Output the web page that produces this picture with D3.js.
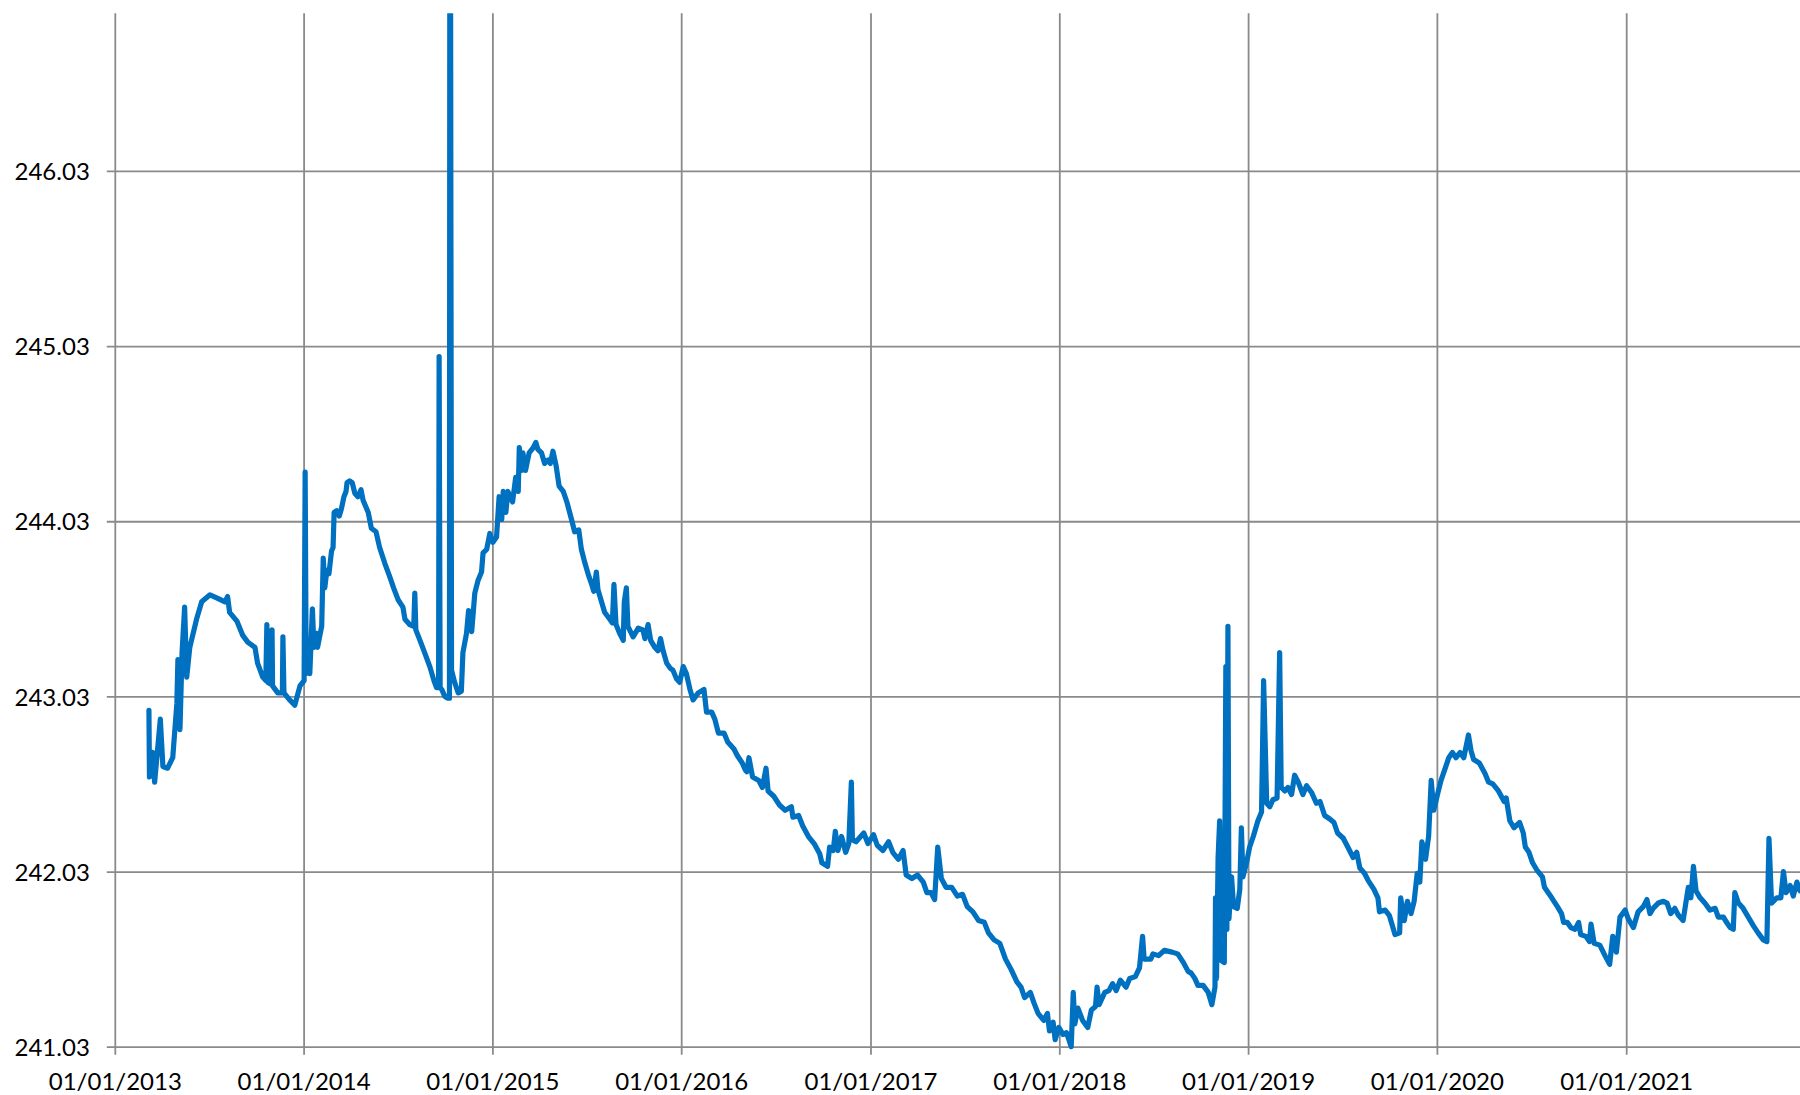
<!DOCTYPE html>
<html>
<head>
<meta charset="utf-8">
<script src="https://cdn.jsdelivr.net/npm/d3@7"></script>
<style>
  html, body { margin: 0; padding: 0; background: #ffffff; }
  svg { display: block; }
  .tick text { font-family: Lato, "Open Sans", sans-serif; fill: #000; }
</style>
</head>
<body>
<svg id="chart" width="1800" height="1095"></svg>
<script>
// ---------- data ----------
const dates = [
"2013-03-08","2013-03-09","2013-03-15","2013-03-19","2013-03-30","2013-04-04","2013-04-13","2013-04-23","2013-05-01","2013-05-03",
"2013-05-07","2013-05-11","2013-05-16","2013-05-20","2013-05-26","2013-06-08","2013-06-18","2013-07-04","2013-07-19","2013-08-02",
"2013-08-07","2013-08-11","2013-08-25","2013-09-05","2013-09-15","2013-09-29","2013-10-04","2013-10-14","2013-10-20","2013-10-22",
"2013-10-24","2013-10-30","2013-11-01","2013-11-02","2013-11-12","2013-11-21","2013-11-22","2013-11-24","2013-12-05","2013-12-15",
"2013-12-25","2014-01-02","2014-01-04","2014-01-06","2014-01-09","2014-01-13","2014-01-18","2014-01-21","2014-01-26","2014-01-28",
"2014-02-05","2014-02-08","2014-02-11","2014-02-15","2014-02-19","2014-02-24","2014-02-27","2014-03-01","2014-03-06","2014-03-11",
"2014-03-15","2014-03-20","2014-03-24","2014-03-26","2014-03-31","2014-04-05","2014-04-10","2014-04-16","2014-04-22","2014-04-26",
"2014-05-06","2014-05-12","2014-05-21","2014-05-28","2014-06-07","2014-06-17","2014-06-24","2014-07-03","2014-07-12","2014-07-16",
"2014-07-25","2014-08-02","2014-08-04","2014-08-06","2014-08-14","2014-08-23","2014-09-02","2014-09-10","2014-09-15","2014-09-19",
"2014-09-20","2014-09-22","2014-09-25","2014-10-01","2014-10-06","2014-10-10","2014-10-11","2014-10-14","2014-10-20","2014-10-27",
"2014-11-02","2014-11-05","2014-11-12","2014-11-16","2014-11-22","2014-11-28","2014-12-04","2014-12-11","2014-12-14","2014-12-21",
"2014-12-27","2015-01-02","2015-01-09","2015-01-14","2015-01-19","2015-01-22","2015-01-27","2015-01-31","2015-02-09","2015-02-15",
"2015-02-20","2015-02-22","2015-02-26","2015-03-01","2015-03-06","2015-03-13","2015-03-21","2015-03-26","2015-03-30","2015-04-06",
"2015-04-12","2015-04-19","2015-04-23","2015-04-28","2015-05-04","2015-05-10","2015-05-18","2015-05-25","2015-06-03","2015-06-09",
"2015-06-17","2015-06-22","2015-06-29","2015-07-05","2015-07-12","2015-07-16","2015-07-21","2015-07-24","2015-07-31","2015-08-06",
"2015-08-16","2015-08-21","2015-08-24","2015-08-28","2015-09-04","2015-09-11","2015-09-13","2015-09-17","2015-09-20","2015-09-30",
"2015-10-10","2015-10-19","2015-10-23","2015-10-29","2015-11-03","2015-11-11","2015-11-17","2015-11-22","2015-11-27","2015-12-04",
"2015-12-11","2015-12-16","2015-12-23","2015-12-29","2016-01-05","2016-01-11","2016-01-18","2016-01-24","2016-02-03","2016-02-14",
"2016-02-19","2016-02-29","2016-03-06","2016-03-13","2016-03-24","2016-03-31","2016-04-12","2016-04-19","2016-04-28","2016-05-04",
"2016-05-07","2016-05-11","2016-05-18","2016-05-30","2016-06-06","2016-06-13","2016-06-17","2016-06-28","2016-07-09","2016-07-20",
"2016-08-01","2016-08-04","2016-08-15","2016-08-23","2016-09-03","2016-09-14","2016-09-25","2016-09-29","2016-10-10","2016-10-14",
"2016-10-21","2016-10-25","2016-10-30","2016-11-06","2016-11-14","2016-11-20","2016-11-25","2016-11-27","2016-12-04","2016-12-19",
"2016-12-27","2017-01-07","2017-01-14","2017-01-25","2017-02-05","2017-02-13","2017-02-24","2017-03-05","2017-03-11","2017-03-22",
"2017-04-02","2017-04-13","2017-04-20","2017-04-28","2017-05-05","2017-05-11","2017-05-18","2017-05-27","2017-06-07","2017-06-18",
"2017-06-28","2017-07-07","2017-07-18","2017-07-29","2017-08-09","2017-08-17","2017-08-28","2017-09-08","2017-09-19","2017-09-30",
"2017-10-11","2017-10-19","2017-10-26","2017-11-06","2017-11-13","2017-11-21","2017-12-02","2017-12-09","2017-12-13","2017-12-20",
"2017-12-24","2017-12-31","2018-01-08","2018-01-15","2018-01-24","2018-01-28","2018-01-31","2018-02-06","2018-02-15","2018-02-25",
"2018-03-04","2018-03-12","2018-03-15","2018-03-19","2018-03-30","2018-04-07","2018-04-14","2018-04-21","2018-04-29","2018-05-10",
"2018-05-17","2018-05-28","2018-06-05","2018-06-11","2018-06-14","2018-06-27","2018-07-01","2018-07-12","2018-07-23","2018-08-07",
"2018-08-18","2018-08-29","2018-09-07","2018-09-13","2018-09-20","2018-09-26","2018-10-06","2018-10-16","2018-10-23","2018-10-29",
"2018-10-30","2018-11-01","2018-11-04","2018-11-07","2018-11-11","2018-11-16","2018-11-19","2018-11-21","2018-11-23","2018-11-25",
"2018-11-30","2018-12-04","2018-12-11","2018-12-16","2018-12-19","2018-12-22","2018-12-29","2019-01-04","2019-01-11","2019-01-20",
"2019-01-27","2019-01-31","2019-02-06","2019-02-12","2019-02-18","2019-02-26","2019-03-03","2019-03-06","2019-03-13","2019-03-19",
"2019-03-26","2019-04-01","2019-04-08","2019-04-17","2019-04-24","2019-05-04","2019-05-13","2019-05-20","2019-05-29","2019-06-08",
"2019-06-16","2019-06-23","2019-07-04","2019-07-11","2019-07-23","2019-07-30","2019-08-05","2019-08-14","2019-08-21","2019-09-01",
"2019-09-09","2019-09-12","2019-09-23","2019-10-01","2019-10-12","2019-10-21","2019-10-23","2019-10-30","2019-11-05","2019-11-12",
"2019-11-18","2019-11-24","2019-11-29","2019-12-03","2019-12-10","2019-12-16","2019-12-21","2019-12-26","2020-01-03","2020-01-09",
"2020-01-16","2020-01-24","2020-01-31","2020-02-07","2020-02-15","2020-02-22","2020-03-02","2020-03-07","2020-03-12","2020-03-23",
"2020-04-03","2020-04-10","2020-04-18","2020-04-29","2020-05-10","2020-05-14","2020-05-21","2020-05-29","2020-06-09","2020-06-16",
"2020-06-20","2020-06-27","2020-07-04","2020-07-12","2020-07-23","2020-07-27","2020-08-03","2020-08-10","2020-08-21","2020-08-29",
"2020-09-02","2020-09-09","2020-09-16","2020-09-24","2020-10-01","2020-10-05","2020-10-15","2020-10-22","2020-10-25","2020-10-31",
"2020-11-11","2020-11-21","2020-11-30","2020-12-06","2020-12-13","2020-12-20","2020-12-30","2021-01-05","2021-01-15","2021-01-24",
"2021-02-03","2021-02-10","2021-02-16","2021-02-22","2021-03-04","2021-03-14","2021-03-21","2021-03-28","2021-04-05","2021-04-12",
"2021-04-21","2021-05-01","2021-05-06","2021-05-11","2021-05-16","2021-05-24","2021-06-02","2021-06-12","2021-06-22","2021-06-28",
"2021-07-08","2021-07-14","2021-07-21","2021-07-27","2021-07-30","2021-08-06","2021-08-15","2021-08-25","2021-09-04","2021-09-13",
"2021-09-23","2021-09-30","2021-10-04","2021-10-09","2021-10-19","2021-10-27","2021-11-01","2021-11-06","2021-11-14","2021-11-20",
"2021-11-27","2021-12-03"
];
const levels = [
242.95,242.57,242.71,242.54,242.90,242.63,242.62,242.68,242.99,243.24,
242.84,243.28,243.54,243.14,243.31,243.47,243.57,243.61,243.59,243.57,
243.60,243.51,243.46,243.38,243.34,243.31,243.22,243.14,243.12,243.44,
243.11,243.10,243.41,243.09,243.05,243.05,243.37,243.05,243.01,242.98,
243.09,243.12,244.31,243.16,243.35,243.16,243.53,243.31,243.39,243.31,
243.43,243.82,243.65,243.75,243.73,243.86,243.88,244.08,244.09,244.06,
244.10,244.17,244.20,244.25,244.26,244.25,244.19,244.17,244.21,244.15,
244.08,243.99,243.97,243.88,243.79,243.71,243.65,243.58,243.54,243.47,
243.44,243.43,243.62,243.41,243.35,243.28,243.20,243.12,243.08,243.08,
244.97,243.08,243.07,243.03,243.02,243.02,249.50,243.18,243.11,243.05,
243.06,243.28,243.39,243.52,243.40,243.62,243.69,243.74,243.85,243.87,
243.96,243.91,243.94,244.17,244.04,244.20,244.08,244.20,244.14,244.28,
244.20,244.45,244.32,244.42,244.32,244.42,244.45,244.48,244.44,244.42,
244.36,244.38,244.36,244.43,244.35,244.23,244.20,244.14,244.04,243.97,
243.98,243.87,243.79,243.73,243.67,243.63,243.74,243.64,243.57,243.51,
243.47,243.45,243.67,243.44,243.39,243.35,243.57,243.65,243.43,243.37,
243.42,243.41,243.36,243.44,243.35,243.31,243.29,243.36,243.29,243.22,
243.19,243.18,243.13,243.11,243.20,243.16,243.07,243.01,243.05,243.07,
242.94,242.94,242.90,242.82,242.82,242.77,242.73,242.69,242.65,242.61,
242.60,242.68,242.57,242.55,242.51,242.62,242.49,242.46,242.41,242.38,
242.40,242.34,242.35,242.29,242.23,242.19,242.13,242.08,242.06,242.17,
242.15,242.26,242.15,242.23,242.14,242.19,242.54,242.21,242.20,242.25,
242.19,242.24,242.18,242.15,242.20,242.14,242.10,242.15,242.01,241.99,
242.01,241.97,241.91,241.91,241.87,242.17,241.99,241.94,241.94,241.89,
241.90,241.83,241.80,241.75,241.74,241.68,241.64,241.62,241.53,241.47,
241.40,241.37,241.31,241.34,241.28,241.22,241.18,241.22,241.12,241.17,
241.07,241.14,241.10,241.11,241.03,241.34,241.16,241.25,241.18,241.14,
241.24,241.26,241.37,241.27,241.34,241.35,241.39,241.35,241.41,241.37,
241.42,241.43,241.48,241.66,241.53,241.53,241.56,241.55,241.58,241.57,
241.56,241.51,241.46,241.45,241.42,241.38,241.38,241.34,241.27,241.37,
241.88,241.42,242.11,242.32,241.52,241.51,243.20,241.70,243.43,241.76,
242.00,241.83,241.82,241.93,242.28,242.00,242.08,242.17,242.23,242.32,
242.37,243.12,242.42,242.40,242.44,242.45,243.28,242.51,242.49,242.51,
242.47,242.58,242.54,242.47,242.52,242.48,242.42,242.43,242.35,242.33,
242.31,242.25,242.22,242.18,242.11,242.14,242.05,242.02,241.98,241.93,
241.88,241.80,241.81,241.78,241.67,241.68,241.88,241.75,241.86,241.79,
241.86,242.02,241.97,242.20,242.10,242.23,242.55,242.38,242.48,242.55,
242.61,242.68,242.71,242.68,242.71,242.68,242.81,242.72,242.67,242.65,
242.59,242.54,242.53,242.49,242.43,242.45,242.32,242.28,242.31,242.25,
242.17,242.14,242.08,242.04,242.00,241.94,241.91,241.88,241.83,241.79,
241.74,241.74,241.71,241.70,241.74,241.67,241.66,241.63,241.73,241.62,
241.61,241.55,241.50,241.66,241.57,241.77,241.81,241.76,241.71,241.80,
241.83,241.87,241.79,241.82,241.85,241.86,241.85,241.79,241.82,241.78,
241.75,241.94,241.88,242.06,241.92,241.88,241.85,241.81,241.82,241.77,
241.77,241.74,241.71,241.70,241.91,241.85,241.82,241.77,241.72,241.68,
241.64,241.63,242.22,241.85,241.88,241.88,242.03,241.91,241.95,241.89,
241.97,241.92
];
const yTicks = [241.03, 242.03, 243.03, 244.03, 245.03, 246.03];
const xTickDates = ["2013-01-01","2014-01-01","2015-01-01","2016-01-01","2017-01-01","2018-01-01","2019-01-01","2020-01-01","2021-01-01"];
const yDomain = [241.03, 246.93];
const xDomain = ["2013-01-01", "2021-12-03"];

// ---------- layout ----------
const W = 1800, H = 1095;
const plotLeft = 114.8, plotRight = 1800, plotTop = 13.3, plotBottom = 1046.7;
const plotW = plotRight - plotLeft, plotH = plotBottom - plotTop;

const parse = d3.utcParse("%Y-%m-%d");
const n = Math.min(dates.length, levels.length);
const data = dates.slice(0, n).map((d, i) => ({ date: parse(d), value: levels[i] }));

const x = d3.scaleUtc().domain(xDomain.map(parse)).range([plotLeft, plotRight]);
const y = d3.scaleLinear().domain(yDomain).range([plotBottom, plotTop]);

const svg = d3.select("#chart");
svg.append("rect").attr("width", W).attr("height", H).attr("fill", "#fff");

const gridColor = "#8a8a8a";

// Y axis with horizontal gridlines
const yAxis = svg.append("g")
  .attr("transform", `translate(${plotLeft},0)`)
  .call(d3.axisLeft(y).tickValues(yTicks).tickFormat(d3.format(".2f"))
        .tickSizeInner(-plotW).tickSizeOuter(0).tickPadding(25));
yAxis.select(".domain").remove();
yAxis.selectAll(".tick line").attr("x1", -8).attr("stroke", gridColor).attr("stroke-width", 1.8);
yAxis.selectAll(".tick text").attr("font-size", 24).attr("dy", "0.36em");

// X axis with vertical gridlines
const xAxis = svg.append("g")
  .attr("transform", `translate(0,${plotBottom})`)
  .call(d3.axisBottom(x).tickValues(xTickDates.map(parse)).tickFormat(d3.utcFormat("%d/%m/%Y"))
        .tickSizeInner(-plotH).tickSizeOuter(0));
xAxis.select(".domain").remove();
xAxis.selectAll(".tick line").attr("y1", 8).attr("stroke", gridColor).attr("stroke-width", 1.8);
xAxis.selectAll(".tick text").attr("font-size", 24).attr("y", 43).attr("dy", 0);

// clip
svg.append("clipPath").attr("id", "plotClip")
  .append("rect").attr("x", plotLeft).attr("y", plotTop).attr("width", plotW).attr("height", plotH + 10);

// line
const line = d3.line().x(d => x(d.date)).y(d => y(d.value));
svg.append("path")
  .datum(data)
  .attr("clip-path", "url(#plotClip)")
  .attr("fill", "none")
  .attr("stroke", "#0070C0")
  .attr("stroke-width", 5.2)
  .attr("stroke-linejoin", "round")
  .attr("stroke-linecap", "round")
  .attr("d", line);

if (dates.length !== levels.length) {
  throw new Error("length mismatch " + dates.length + " vs " + levels.length);
}
</script>
</body>
</html>
